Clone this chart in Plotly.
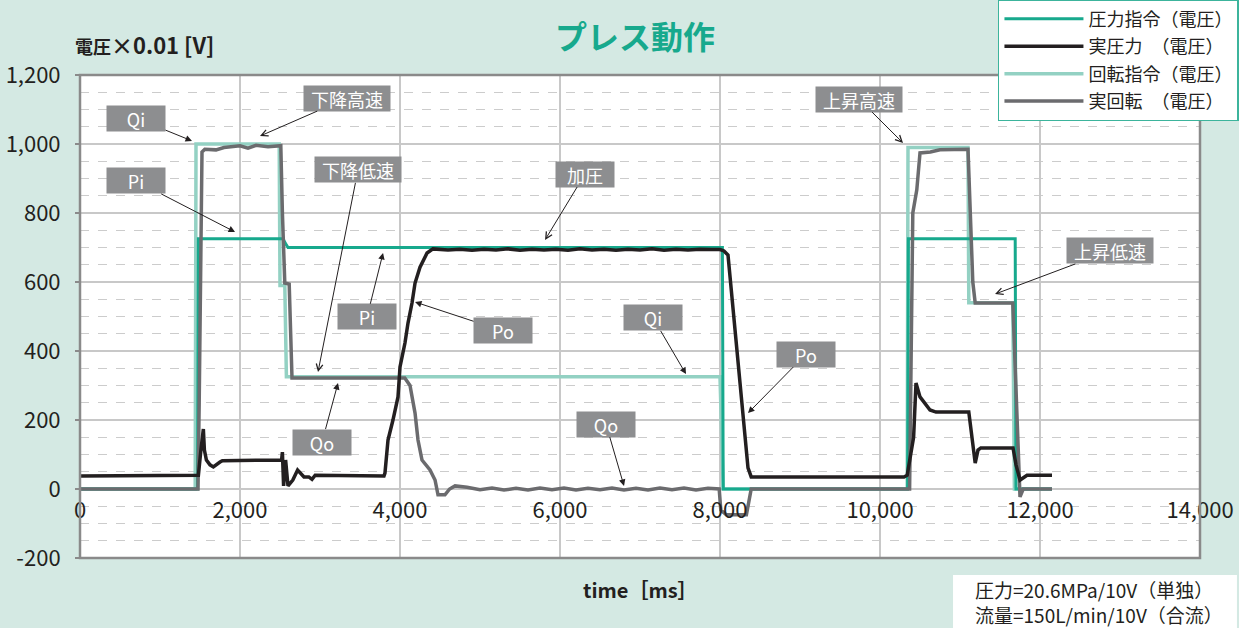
import plotly.graph_objects as go

# ---------------- data (time [ms], voltage x0.01 [V]) ----------------
# 圧力指令 (Pi)
pi_t = [0, 1470, 1480, 2540, 2560, 2600, 8030, 8040, 10345, 10355, 11690, 11700, 12150]
pi_v = [0, 0, 725, 725, 715, 700, 700, 0, 0, 725, 725, 0, 0]

# 実圧力 (Po)
po_t = [0, 1410, 1480, 1510, 1542, 1555, 1580, 1625, 1667, 1750, 1780, 2520, 2530, 2545,
        2570, 2600, 2660, 2720, 2800, 2860, 2900, 2940, 3800, 3812, 3850, 3912, 3975,
        4000, 4062, 4100, 4150, 4188, 4250, 4338, 4412,
        4600, 4750, 4900, 5050, 5200, 5350, 5500, 5650, 5800, 5950, 6100, 6250, 6400,
        6550, 6700, 6850, 7000, 7150, 7300, 7450, 7600, 7750, 7900, 8000,
        8050, 8100, 8350, 8390, 10300, 10340, 10420, 10450, 10500, 10625, 10700,
        11110, 11190, 11225, 11260, 11663, 11700, 11750, 11838, 12150]
po_v = [38, 38, 40, 110, 174, 113, 84, 70, 64, 78, 82, 84, 107, 9,
        84, 9, 26, 55, 35, 35, 28, 40, 38, 46, 142, 200, 267,
        354, 423, 481, 539, 597, 643, 684, 696,
        693, 695, 692, 695, 693, 696, 692, 695, 693, 695, 692, 696, 693,
        695, 692, 695, 693, 696, 692, 695, 693, 695, 694, 694,
        690, 678, 61, 35, 35, 40, 150, 307, 267, 229, 223,
        223, 75, 113, 119, 119, 70, 26, 40, 40]

# 回転指令 (Qi)
qi_t = [0, 1440, 1450, 2490, 2500, 2560, 2580, 8000, 8040, 10340, 10350, 11100, 11110,
        11660, 11680, 12150]
qi_v = [0, 0, 1000, 1000, 590, 590, 325, 325, 0, 0, 990, 990, 540, 540, 0, 0]

# 実回転 (Qo)
qo_t = [0, 1475, 1490, 1510, 1525, 1560, 1700, 1800, 2000, 2100, 2200, 2350, 2510, 2530,
        2560, 2615, 2650, 4060, 4125, 4188, 4225, 4275, 4375, 4438, 4475, 4562, 4620,
        4688, 4838, 5000, 5150, 5300, 5450, 5600, 5750, 5900, 6050, 6200, 6350, 6500,
        6650, 6800, 6950, 7100, 7250, 7400, 7550, 7700, 7850, 7990,
        8010, 8080, 8330, 8390, 10370, 10410, 10460, 10500, 10630, 10750, 11100,
        11160, 11190, 11660, 11720, 11750, 11790, 12150]
qo_v = [0, 0, 250, 800, 977, 985, 983, 990, 995, 988, 996, 992, 995, 800,
        597, 594, 322, 322, 300, 220, 142, 84, 55, 26, -17, -17, 0,
        9, 5, -2, 3, -3, 2, -3, 3, -2, 3, -3, 2, -2,
        3, -3, 2, -3, 3, -2, 3, -3, 2, 0,
        -61, -75, -75, 0, 0, 800, 867, 974, 977, 983, 985,
        600, 539, 539, 200, -23, 0, 0]

# tick labels
x_ticks = [0, 2000, 4000, 6000, 8000, 10000, 12000, 14000]
x_tick_text = ["0", "2,000", "4,000", "6,000", "8,000", "10,000", "12,000", "14,000"]
y_ticks = [-200, 0, 200, 400, 600, 800, 1000, 1200]
y_tick_text = ["-200", "0", "200", "400", "600", "800", "1,000", "1,200"]

# callouts: label, arrow tip (x, y), box centre (x, y), arrowhead style
callouts = [
    ("Qi", 1400, 1009, 700, 1075, 2),
    ("下降高速", 2250, 1023, 3338, 1133, 5),
    ("Pi", 1938, 745, 700, 893, 2),
    ("下降低速", 2975, 339, 3475, 925, 5),
    ("Pi", 3788, 684, 3588, 499, 2),
    ("加圧", 5813, 722, 6313, 913, 5),
    ("Po", 4188, 542, 5288, 458, 2),
    ("Qi", 7575, 333, 7163, 496, 2),
    ("Po", 8350, 220, 9075, 391, 2),
    ("Qo", 3225, 307, 3025, 136, 2),
    ("Qo", 6800, 9, 6575, 188, 2),
    ("上昇高速", 10288, 1003, 9738, 1130, 5),
    ("上昇低速", 11438, 565, 12875, 690, 5),
]

# ---------------- styling ----------------
BG = "#d4e9e3"
TEAL = "#17a98d"
LIGHT = "#93d1c3"
BLACK = "#231f20"
GRAY = "#6b6b6e"
BOX = "#8d8e90"
FONT = "Noto Sans CJK JP"

fig = go.Figure()
fig.add_trace(go.Scatter(x=qi_t, y=qi_v, mode="lines", name="回転指令（電圧）",
                         line=dict(color=LIGHT, width=3.5), legendrank=3, legendgroup="c"))
fig.add_trace(go.Scatter(x=pi_t, y=pi_v, mode="lines", name="圧力指令（電圧）",
                         line=dict(color=TEAL, width=3), legendrank=1, legendgroup="a"))
fig.add_trace(go.Scatter(x=qo_t, y=qo_v, mode="lines", name="実回転　（電圧）",
                         line=dict(color=GRAY, width=3.5), legendrank=4, legendgroup="d"))
fig.add_trace(go.Scatter(x=po_t, y=po_v, mode="lines", name="実圧力　（電圧）",
                         line=dict(color=BLACK, width=3.5), legendrank=2, legendgroup="b"))

annotations = []
for label, tx, ty, bx, by, head in callouts:
    w = 56 if len(label) <= 2 else 84
    annotations.append(dict(
        x=tx, y=ty, xref="x", yref="y", ax=bx, ay=by, axref="x", ayref="y",
        text=label, showarrow=True, arrowhead=head, arrowsize=1.3, arrowwidth=1,
        arrowcolor=BLACK, standoff=0, bgcolor=BOX, width=w, height=23, borderpad=1,
        font=dict(family=FONT, size=18, color="white"),
    ))

# title and texts
annotations += [
    dict(text="<b>プレス動作</b>", x=0.4955, y=1.083, xref="paper", yref="paper",
         xanchor="center", yanchor="middle", showarrow=False,
         font=dict(family=FONT, size=32, color=TEAL)),
    dict(text="<b>電圧<span style='font-size:22px'>×0.01 [V]</span></b>", x=-0.006, y=1.064,
         xref="paper", yref="paper", xanchor="left", yanchor="middle", showarrow=False,
         font=dict(family=FONT, size=18, color="#231f20")),
    dict(text="<b>time［ms］</b>", x=0.5, y=-0.066, xref="paper", yref="paper",
         xanchor="center", yanchor="middle", showarrow=False,
         font=dict(family=FONT, size=20, color="#231f20")),
    dict(text="圧力=20.6MPa/10V（単独）<br>流量=150L/min/10V（合流）", x=0.797, y=-0.0911,
         xref="paper", yref="paper", xanchor="left", yanchor="middle", align="left",
         showarrow=False, font=dict(family=FONT, size=19, color="#231f20")),
]

shapes = [
    dict(type="rect", xref="paper", yref="paper", x0=0, x1=1, y0=0, y1=1,
         line=dict(color="#8a8a8a", width=2.5), fillcolor="rgba(0,0,0,0)", layer="above"),
    dict(type="rect", xref="paper", yref="paper", x0=0.7795, x1=1.033, y0=-0.146, y1=-0.035,
         line=dict(width=0), fillcolor="white", layer="below"),
]

fig.update_layout(
    width=1239, height=628,
    margin=dict(l=80, r=39, t=75, b=70, autoexpand=False),
    paper_bgcolor=BG, plot_bgcolor="white",
    font=dict(family=FONT, size=18, color="#231f20"),
    showlegend=True,
    legend=dict(x=0.8196, y=1.157, xanchor="left", yanchor="top", bgcolor="white",
                bordercolor="#3cb49c", borderwidth=1.5, itemwidth=79,
                tracegroupgap=1,
                font=dict(family=FONT, size=18, color="#231f20"),
                traceorder="grouped"),
    annotations=annotations,
    shapes=shapes,
    xaxis=dict(range=[0, 14000], tickvals=x_ticks, ticktext=x_tick_text,
               showgrid=True, gridcolor="#c8c8c8", gridwidth=1.5, zeroline=False,
               showline=False, ticks="", anchor="free", position=1/7,
               ticklabelstandoff=6,
               tickfont=dict(family=FONT, size=22, color="#231f20")),
    yaxis=dict(range=[-200, 1200], tickvals=y_ticks, ticktext=y_tick_text,
               showgrid=True, gridcolor="#c8c8c8", gridwidth=1.5, zeroline=False,
               showline=False, ticks="outside", ticklen=4, tickcolor="#8a8a8a",
               tickwidth=1.5, ticklabelstandoff=10,
               minor=dict(dtick=50, tick0=0, showgrid=True, gridcolor="#cccccc",
                          griddash="dash", gridwidth=1, ticks=""),
               tickfont=dict(family=FONT, size=22, color="#231f20")),
)

fig.write_html("out.html", config={"displayModeBar": False},
               post_script="document.body.style.margin='0';")
